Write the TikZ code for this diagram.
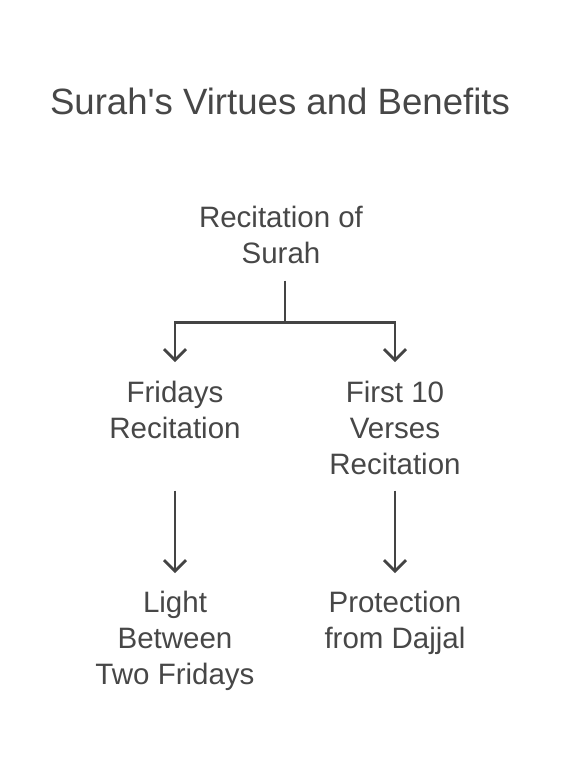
\documentclass[tikz,border=0pt]{standalone}
\usepackage{fontspec}
\setmainfont{Liberation Sans}
\newfontfamily\plainsans{Liberation Sans}
\usetikzlibrary{arrows.meta,calc}
\definecolor{ink}{HTML}{474747}
\definecolor{linec}{HTML}{444444}
\begin{document}
\begin{tikzpicture}[x=1pt,y=-1pt,
  lbl/.style={inner sep=0pt, outer sep=0pt, align=center, text=ink, anchor=north, font=\fontsize{29.5}{36}\selectfont},
  ttl/.style={inner sep=0pt, outer sep=0pt, text=ink, anchor=base west, font=\plainsans\fontsize{36.6}{42}\selectfont},
  ln/.style={draw=linec, line width=2.8pt, line join=miter},
  arr/.style={ln, -{Straight Barb[length=11pt,width=22pt,line width=2.8pt]}}]
\useasboundingbox (0,0) rectangle (561,766);
\node[ttl] (title) at (50,114) {Surah's Virtues and Benefits};
\node[lbl] (n1) at (281,206) {Recitation of\\Surah};
\node[lbl] (n2) at (175,381) {Fridays\\Recitation};
\node[lbl] (n3) at (395,381) {First 10\\Verses\\Recitation};
\node[lbl] (n4) at (175,591) {Light\\Between\\Two Fridays};
\node[lbl] (n5) at (395,591) {Protection\\from Dajjal};
\coordinate (j) at ($(n1.south)+(4,59)$);
\draw[ln] ($(n1.south)+(4,17)$) -- (j);
\draw[arr] (j) -| ($(n2.north)+(0,-19)$);
\draw[arr] (j) -| ($(n3.north)+(0,-19)$);
\draw[arr] ($(n2.south |- n3.south)+(0,16)$) -- ($(n4.north)+(0,-18)$);
\draw[arr] ($(n3.south)+(0,16)$) -- ($(n5.north)+(0,-18)$);
\end{tikzpicture}
\end{document}
